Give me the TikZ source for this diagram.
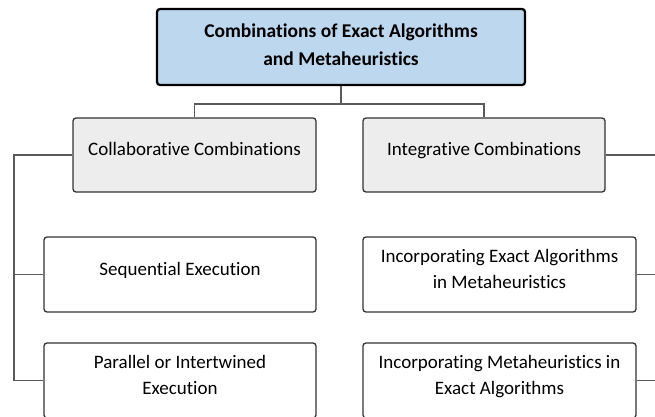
\documentclass[tikz,border=0pt]{standalone}
\usepackage{fontspec}
\setmainfont{Carlito}[Ligatures=NoCommon]
\definecolor{headblue}{HTML}{BDD7EE}
\definecolor{groupgray}{HTML}{EDEDED}
\definecolor{linegray}{HTML}{5A5A5A}
\tikzset{
    box/.style={draw=black!80, line width=1.3pt, rounded corners=3pt,
        align=center, inner sep=0pt, text depth=12pt,
        font=\fontsize{19}{26}\selectfont},
    headbox/.style={box, draw=black, line width=2.2pt, fill=headblue,
        text depth=5pt, font=\bfseries\fontsize{19.5}{28}\selectfont},
    groupbox/.style={box, fill=groupgray},
    link/.style={linegray, line width=1.1pt}
}

\begin{document}
\begin{tikzpicture}[x=1pt, y=-1pt]

    \useasboundingbox (0,0) rectangle (655,416);

    %draws head box
    \node[headbox, minimum width=368pt, minimum height=76pt] (head) at (341,47)
        {Combinations of Exact Algorithms\\and Metaheuristics};

    %draws the two groups
    \node[groupbox, minimum width=243pt, minimum height=74pt] (collab) at (194.5,155)
        {Collaborative Combinations};
    \node[groupbox, minimum width=242pt, minimum height=74pt] (integ) at (484,155)
        {Integrative Combinations};

    %draws the leaves
    \node[box, minimum width=272pt, minimum height=75pt] (seq) at (180,274.5)
        {Sequential Execution};
    \node[box, minimum width=272pt, minimum height=75pt] (par) at (180,380.5)
        {Parallel or Intertwined\\Execution};
    \node[box, minimum width=273pt, minimum height=75pt] (incexact) at (499.5,274.5)
        {Incorporating Exact Algorithms\\in Metaheuristics};
    \node[box, minimum width=273pt, minimum height=75pt] (incmeta) at (499.5,380.5)
        {Incorporating Metaheuristics in\\Exact Algorithms};

    %draws the connectors
    \coordinate (fork) at (341,104);
    \coordinate (leftx) at (14,0);
    \coordinate (rightx) at (660,0);

    \draw[link] (head.south) -- (fork);
    \draw[link] (fork) -| (collab.north);
    \draw[link] (fork) -| (integ.north);

    \draw[link] (collab.west) -- (collab.west -| leftx) |- (par.west);
    \draw[link] (seq.west) -- (seq.west -| leftx);

    \draw[link] (integ.east) -- (integ.east -| rightx);
    \draw[link] (incexact.east) -- (incexact.east -| rightx);
    \draw[link] (incmeta.east) -- (incmeta.east -| rightx);

\end{tikzpicture}
\end{document}
